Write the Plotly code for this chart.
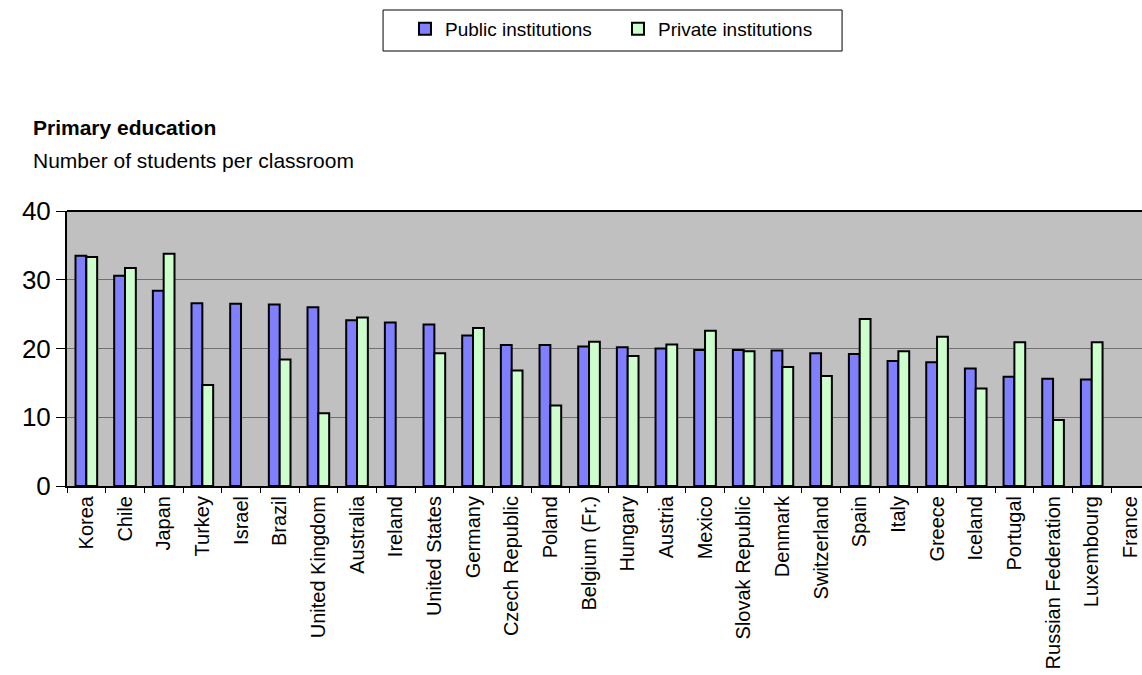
import plotly.graph_objects as go

countries = ["Korea", "Chile", "Japan", "Turkey", "Israel", "Brazil", "United Kingdom",
             "Australia", "Ireland", "United States", "Germany", "Czech Republic", "Poland",
             "Belgium (Fr.)", "Hungary", "Austria", "Mexico", "Slovak Republic", "Denmark",
             "Switzerland", "Spain", "Italy", "Greece", "Iceland", "Portugal",
             "Russian Federation", "Luxembourg", "France"]

public_vals = [33.5, 30.6, 28.4, 26.6, 26.5, 26.4, 26.0, 24.1, 23.8, 23.5, 21.9, 20.5, 20.5,
               20.3, 20.2, 20.0, 19.8, 19.8, 19.7, 19.3, 19.2, 18.2, 18.0, 17.1, 15.9,
               15.6, 15.5, None]

private_vals = [33.3, 31.7, 33.8, 14.7, None, 18.4, 10.6, 24.5, None, 19.3, 23.0, 16.8, 11.7,
                21.0, 18.9, 20.6, 22.6, 19.6, 17.3, 16.0, 24.3, 19.6, 21.7, 14.2, 20.9,
                9.6, 20.9, None]

y_ticks = [0, 10, 20, 30, 40]

FONT = "Liberation Sans, Arial, sans-serif"

fig = go.Figure()
fig.add_trace(go.Bar(x=countries, y=public_vals, name="Public institutions",
                     marker=dict(color="#8080FF", line=dict(color="black", width=2))))
fig.add_trace(go.Bar(x=countries, y=private_vals, name="Private institutions",
                     marker=dict(color="#CCFFCC", line=dict(color="black", width=2))))

fig.update_layout(
    width=1142, height=675,
    margin=dict(l=67, r=0, t=211, b=189),
    paper_bgcolor="white",
    plot_bgcolor="#C0C0C0",
    barmode="group",
    bargap=0.44,
    bargroupgap=0,
    font=dict(family=FONT, color="black"),
    showlegend=True,
    legend=dict(
        orientation="h",
        x=0.3144, xanchor="left",
        y=1.731, yanchor="top",
        borderwidth=0,
        bgcolor="rgba(0,0,0,0)",
        font=dict(size=19, family=FONT),
        entrywidth=168, entrywidthmode="pixels",
        itemwidth=30,
    ),
    xaxis=dict(
        type="category",
        range=[-0.5, 27.3],
        tickangle=-90,
        tickfont=dict(size=20, family=FONT),
        ticks="outside", ticklen=5, tickwidth=1, tickcolor="black",
        tickson="boundaries",
        showline=True, linecolor="black", linewidth=2,
        showgrid=False,
        fixedrange=True,
    ),
    yaxis=dict(
        range=[0, 40],
        tickvals=y_ticks,
        tickfont=dict(size=26, family=FONT),
        ticks="outside", ticklen=9, tickwidth=1, tickcolor="black",
        showline=True, linecolor="black", linewidth=2,
        showgrid=True, gridcolor="#707070", gridwidth=1,
        zeroline=False,
    ),
    shapes=[
        dict(type="line", xref="paper", yref="paper", x0=0, x1=1, y0=1, y1=1,
             line=dict(color="black", width=2)),
        dict(type="rect", xref="paper", yref="paper", x0=0.294, x1=0.721,
             y0=1.5818, y1=1.7309, line=dict(color="black", width=1),
             fillcolor="rgba(0,0,0,0)", layer="below"),
    ],
    annotations=[
        dict(text="<b>Primary education</b>", xref="paper", yref="paper",
             x=-0.0335, y=1.305, xanchor="left", yanchor="middle",
             showarrow=False, font=dict(size=21, family=FONT)),
        dict(text="Number of students per classroom", xref="paper", yref="paper",
             x=-0.0335, y=1.182, xanchor="left", yanchor="middle",
             showarrow=False, font=dict(size=21, family=FONT)),
    ],
)

fig.write_html("out.html")
